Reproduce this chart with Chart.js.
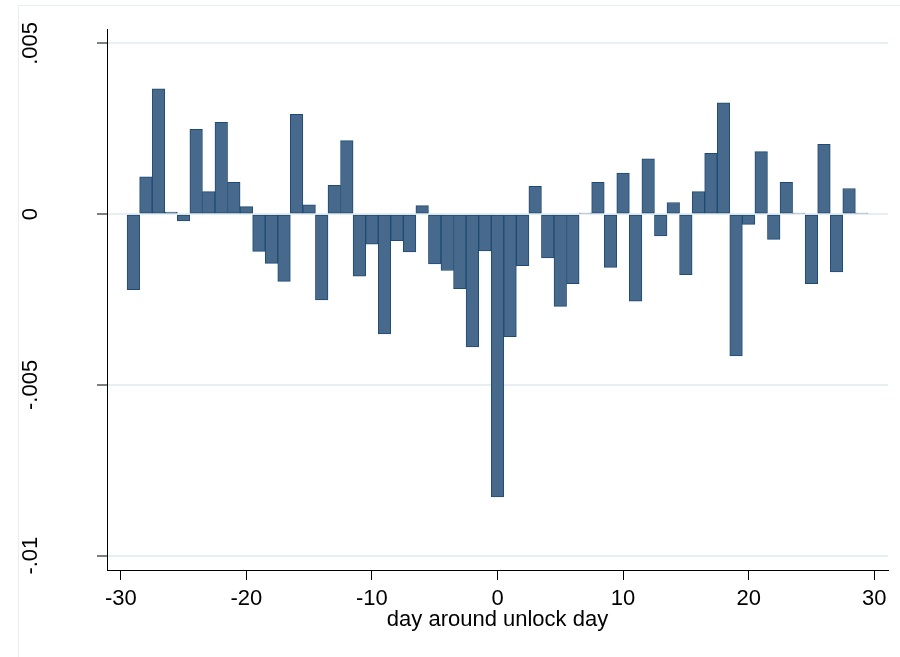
<!DOCTYPE html>
<html>
<head>
<meta charset="utf-8">
<script src="https://cdn.jsdelivr.net/npm/chart.js@4"></script>
<style>
  html, body { margin: 0; padding: 0; background: #fff; }
  #wrap { width: 900px; height: 657px; position: relative; }
</style>
</head>
<body>
<div id="wrap"><canvas id="barChart"></canvas></div>
<script>
const days = [-29, -28, -27, -26, -25, -24, -23, -22, -21, -20,
              -19, -18, -17, -16, -15, -14, -13, -12, -11, -10,
              -9, -8, -7, -6, -5, -4, -3, -2, -1, 0,
              1, 2, 3, 4, 5, 6, 7, 8, 9, 10,
              11, 12, 13, 14, 15, 16, 17, 18, 19, 20,
              21, 22, 23, 24, 25, 26, 27, 28, 29];
const values = [-0.00221, 0.00109, 0.00367, 0.00006, -0.00020, 0.00248, 0.00066, 0.00269, 0.00093, 0.00022,
                -0.00109, -0.00144, -0.00197, 0.00292, 0.00027, -0.00251, 0.00084, 0.00215, -0.00182, -0.00088,
                -0.00351, -0.00078, -0.00111, 0.00025, -0.00146, -0.00165, -0.00218, -0.00389, -0.00108, -0.00828,
                -0.00359, -0.00151, 0.00081, -0.00128, -0.00270, -0.00204, 0.00003, 0.00093, -0.00156, 0.00120,
                -0.00255, 0.00162, -0.00064, 0.00034, -0.00177, 0.00066, 0.00178, 0.00326, -0.00415, -0.00030,
                0.00183, -0.00074, 0.00093, 0.00003, -0.00204, 0.00204, -0.00169, 0.00075, 0.00003];

const xTicks = [-30, -20, -10, 0, 10, 20, 30];
const yTicks = [0.005, 0, -0.005, -0.01];
const yTickLabels = ['.005', '0', '-.005', '-.01'];
const xTitle = 'day around unlock day';

const FONT = 'Liberation Sans, Arial, Helvetica, sans-serif';

// light outer frame of the graph region
const frame = {
    id: 'frame',
    beforeDraw(chart) {
        const ctx = chart.ctx;
        ctx.save();
        ctx.fillStyle = '#fff';
        ctx.fillRect(0, 0, chart.width, chart.height);
        ctx.strokeStyle = '#e6eff1';
        ctx.lineWidth = 1;
        ctx.strokeRect(18.5, 5.5, 2000, 2000);
        ctx.restore();
    }
};

// y labels are drawn rotated, like Stata does
const rotatedYLabels = {
    id: 'rotatedYLabels',
    afterDraw(chart) {
        const ctx = chart.ctx;
        const y = chart.scales.y;
        ctx.save();
        ctx.fillStyle = '#000';
        ctx.font = '22px ' + FONT;
        ctx.textAlign = 'center';
        ctx.textBaseline = 'middle';
        yTicks.forEach((v, i) => {
            ctx.save();
            ctx.translate(31, y.getPixelForValue(v));
            ctx.rotate(-Math.PI / 2);
            ctx.fillText(yTickLabels[i], 0, 0);
            ctx.restore();
        });
        ctx.restore();
    }
};

new Chart(document.getElementById('barChart'), {
    type: 'bar',
    data: {
        datasets: [{
            data: days.map((d, i) => ({ x: d, y: values[i] })),
            backgroundColor: '#476a8c',
            borderColor: '#1f4a73',
            borderWidth: 1,
            borderSkipped: false,
            barPercentage: 1,
            categoryPercentage: 1
        }]
    },
    options: {
        responsive: true,
        maintainAspectRatio: false,
        animation: false,
        layout: { padding: { top: 29, right: 12, bottom: 0, left: 0 } },
        plugins: {
            legend: { display: false },
            tooltip: { enabled: false }
        },
        scales: {
            x: {
                type: 'linear',
                min: -31.1,
                max: 31.1,
                offset: false,
                afterBuildTicks: s => { s.ticks = xTicks.map(v => ({ value: v })); },
                afterFit: s => { s.height = 87; },
                grid: { offset: false, drawOnChartArea: false, tickColor: '#000', tickLength: 10, tickWidth: 1 },
                border: { color: '#000', width: 1 },
                ticks: {
                    color: '#000',
                    font: { family: FONT, size: 22 },
                    padding: 6,
                    maxRotation: 0,
                    callback: v => String(v)
                },
                title: {
                    display: true,
                    text: xTitle,
                    color: '#000',
                    font: { family: FONT, size: 22 },
                    padding: { top: 0, bottom: 24 }
                }
            },
            y: {
                min: -0.01042,
                max: 0.00542,
                afterBuildTicks: s => { s.ticks = yTicks.map(v => ({ value: v })); },
                afterFit: s => { s.width = 107; },
                grid: { color: '#e6eff1', lineWidth: 2, tickColor: '#000', tickLength: 10, tickWidth: 1 },
                border: { color: '#000', width: 1 },
                ticks: { display: true, callback: () => '' }
            }
        }
    },
    plugins: [frame, rotatedYLabels]
});
</script>
</body>
</html>
